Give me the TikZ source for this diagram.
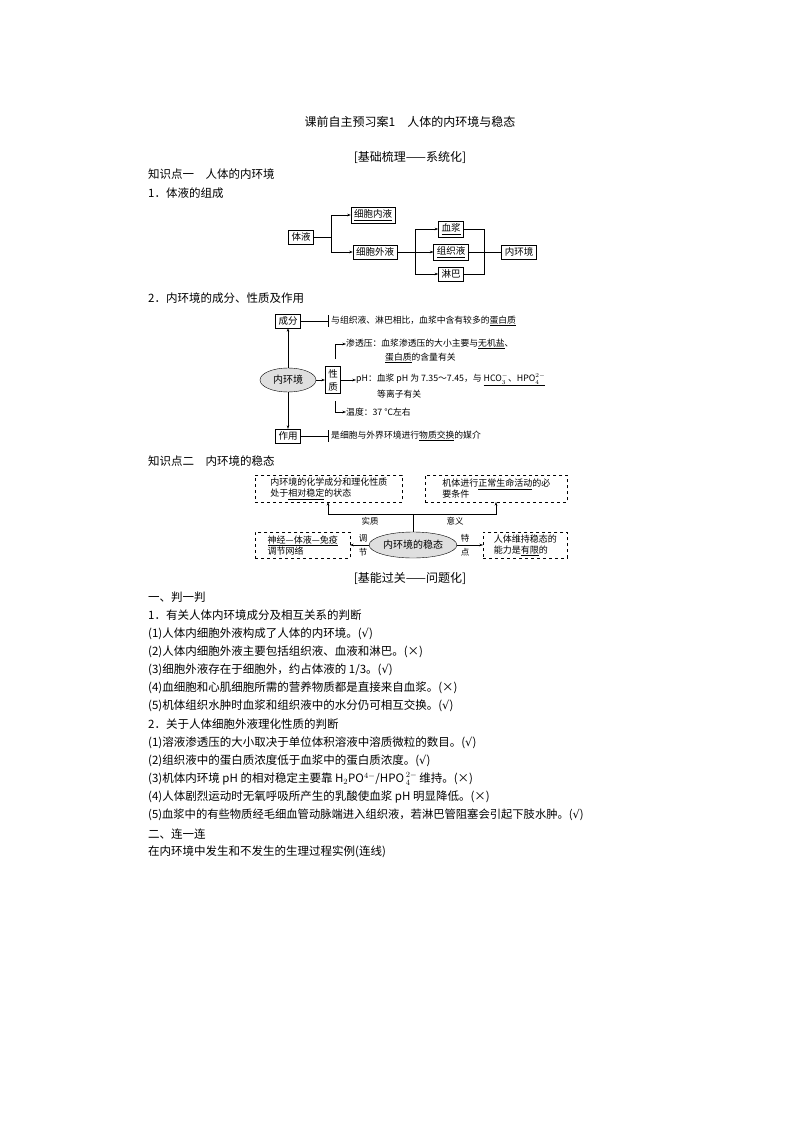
\documentclass[tikz,border=0pt]{standalone}
\usepackage{fontspec}
\setmainfont{Noto Sans CJK SC}
\newfontfamily\djv{DejaVu Sans}
\newcommand{\ok}{{\djv √}}
\usetikzlibrary{arrows.meta,shapes.geometric}
\begin{document}
\begin{tikzpicture}[x=1pt,y=-1pt,
  bx/.style={draw,line width=0.6pt,font=\fontsize{9.5}{10}\selectfont,inner xsep=3pt,inner ysep=2.5pt},
  dbx/.style={draw,dashed,line width=0.5pt,font=\fontsize{9}{11}\selectfont,align=left,anchor=north west,inner sep=2pt},
  el/.style={draw,ellipse,fill=gray!25,font=\fontsize{10}{10}\selectfont,inner sep=1pt},
  ar/.style={-{Stealth[length=3.5pt,width=2.5pt]},line width=0.5pt},
  ln/.style={line width=0.5pt},
  tx/.style={anchor=west,font=\fontsize{11.5}{12}\selectfont,inner sep=0pt},
  sm/.style={anchor=west,font=\fontsize{8.8}{10}\selectfont,inner sep=0pt},
  lb/.style={font=\fontsize{8.5}{10}\selectfont,inner sep=0pt}]
\useasboundingbox (0,0) rectangle (794,1123);
\node[font=\fontsize{12}{12}\selectfont] (title) at (410,122) {课前自主预习案1\quad 人体的内环境与稳态};
\node[font=\fontsize{12}{12}\selectfont] (h1) at (410,157) {[基础梳理——系统化]};
\node[tx] (k1) at (148,174) {知识点一\quad 人体的内环境};
\node[tx] (k11) at (148,193) {1．体液的组成};
% diagram 1
\node[bx] (ty) at (301,237) {体液};
\node[bx] (xbn) at (373,215) {\underline{细胞内液}};
\node[bx] (xbw) at (375,252) {细胞外液};
\node[bx] (xj) at (451,229) {\underline{血浆}};
\node[bx] (zzy) at (451,252) {\underline{组织液}};
\node[bx] (lb) at (451,274) {淋巴};
\node[bx] (nhj) at (519,252) {内环境};
\coordinate (b1) at (331,237);
\draw[ln] (ty.east) -- (b1);
\draw[ar] (b1) |- (xbn.west);
\draw[ar] (b1) |- (xbw.west);
\coordinate (b2) at (415,252);
\draw[ln] (xbw.east) -- (b2);
\draw[ar] (b2) |- (xj.west);
\draw[ar] (b2) -- (zzy.west);
\draw[ar] (b2) |- (lb.west);
\coordinate (b3) at (484,252);
\draw[ln] (xj.east) -| (b3);
\draw[ln] (lb.east) -| (b3);
\draw[ln] (zzy.east) -- (nhj.west);
\node[tx] (k12) at (148,298) {2．内环境的成分、性质及作用};
% diagram 2
\node[bx] (cf) at (288,321) {成分};
\node[el,minimum width=56pt,minimum height=24pt] (nh) at (288,380) {内环境};
\node[bx] (zy) at (288,436) {作用};
\node[bx,align=center,font=\fontsize{9.5}{13}\selectfont] (xz) at (333,380) {性\\质};
\draw[ar] (nh) -- (cf);
\draw[ar] (nh) -- (zy);
\draw[ar] (nh) -- (xz);
\coordinate (t1) at (328,321);
\coordinate (t2) at (328,436);
\draw[ln] (cf.east) -- (t1);
\draw[ln] (328,315) -- (328,327);
\draw[ln] (zy.east) -- (t2);
\draw[ln] (328,430) -- (328,442);
\node[sm] (cft) at (331,321) {与组织液、淋巴相比，血浆中含有较多的\underline{蛋白质}};
\node[sm] (zyt) at (331,436) {是细胞与外界环境进行\underline{物质交换}的媒介};
\node[sm] (s1) at (346,344) {渗透压：血浆渗透压的大小主要与\underline{无机盐}、};
\node[sm] (s2) at (385,358) {\underline{蛋白质}的含量有关};
\node[sm] (p1) at (356,380) {pH：血浆 pH 为 7.35～7.45，与 \underline{HCO$_3^-$、HPO$_4^{2-}$}};
\node[sm] (p2) at (377,394) {等离子有关};
\node[sm] (w1) at (346,412) {温度：37 ℃左右};
\coordinate (v1) at (335,344);
\draw[ar] (335,359) -- (v1) -- (s1.west);
\draw[ar] (335,401) |- (w1.west);
\draw[ar] (xz.east) -- (p1.west);
\node[tx] (k2) at (148,461) {知识点二\quad 内环境的稳态};
% diagram 3
\node[dbx,minimum width=147pt,minimum height=27pt] (d1) at (255,475) {内环境的化学成分和理化性质\\处于\underline{相对稳定}的状态};
\node[dbx,minimum width=142pt,minimum height=27pt] (d2) at (425,475) {机体进行\underline{正常生命活动}的必\\要条件};
\node[dbx,minimum width=95pt,minimum height=26pt] (d3) at (255,532) {\underline{神经—体液—免疫}\\调节网络};
\node[dbx,minimum width=84pt,minimum height=26pt] (d4) at (483,532) {人体维持稳态的\\能力是\underline{有限}的};
\node[el,minimum width=78pt,minimum height=26pt] (wt) at (413,545) {内环境的稳态};
\coordinate (j) at (413,514);
\draw[ln] (wt.north) -- (j);
\draw[ar] (j) -| (328,502);
\draw[ar] (j) -| (496,502);
\draw[ar] (wt.west) -- (350,545);
\draw[ar] (wt.east) -- (483,545);
\node[lb] (l1) at (370,521) {实质};
\node[lb] (l2) at (455,521) {意义};
\node[lb,align=center,font=\fontsize{8.5}{14}\selectfont] (l3) at (363,545) {调\\节};
\node[lb,align=center,font=\fontsize{8.5}{14}\selectfont] (l4) at (465,545) {特\\点};
\node[font=\fontsize{12}{12}\selectfont] (h2) at (410,578) {[基能过关——问题化]};
\node[tx] (q0) at (148,597) {一、判一判};
\node[tx] (q1) at (148,615) {1．有关人体内环境成分及相互关系的判断};
\node[tx] (q11) at (148,634) {(1)人体内细胞外液构成了人体的内环境。(\ok)};
\node[tx] (q12) at (148,652) {(2)人体内细胞外液主要包括组织液、血液和淋巴。(×)};
\node[tx] (q13) at (148,670) {(3)细胞外液存在于细胞外，约占体液的 1/3。(\ok)};
\node[tx] (q14) at (148,688) {(4)血细胞和心肌细胞所需的营养物质都是直接来自血浆。(×)};
\node[tx] (q15) at (148,706) {(5)机体组织水肿时血浆和组织液中的水分仍可相互交换。(\ok)};
\node[tx] (q2) at (148,724) {2．关于人体细胞外液理化性质的判断};
\node[tx] (q21) at (148,743) {(1)溶液渗透压的大小取决于单位体积溶液中溶质微粒的数目。(\ok)};
\node[tx] (q22) at (148,761) {(2)组织液中的蛋白质浓度低于血浆中的蛋白质浓度。(\ok)};
\node[tx] (q23) at (148,779) {(3)机体内环境 pH 的相对稳定主要靠 H$_2$PO$^{4-}$/HPO\,$^{2-}_{4}$\,维持。(×)};
\node[tx] (q24) at (148,797) {(4)人体剧烈运动时无氧呼吸所产生的乳酸使血浆 pH 明显降低。(×)};
\node[tx,font=\fontsize{11.3}{12}\selectfont] (q25) at (148,815) {(5)血浆中的有些物质经毛细血管动脉端进入组织液，若淋巴管阻塞会引起下肢水肿。(\ok)};
\node[tx] (q3) at (148,834) {二、连一连};
\node[tx] (q4) at (148,852) {在内环境中发生和不发生的生理过程实例(连线)};
\end{tikzpicture}
\end{document}
